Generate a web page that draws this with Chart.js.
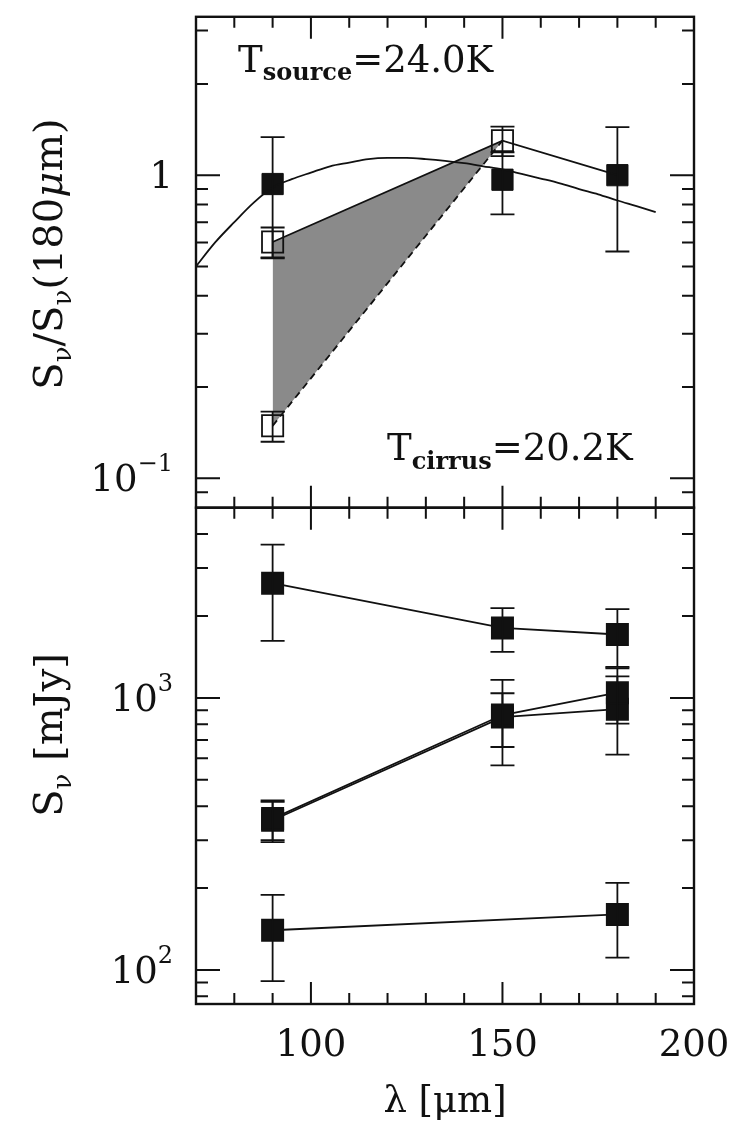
<!DOCTYPE html>
<html>
<head>
<meta charset="utf-8">
<script src="https://cdn.jsdelivr.net/npm/chart.js@4.4.0/dist/chart.umd.min.js"></script>
<style>
  html, body { margin: 0; padding: 0; background: #fff; }
  #wrap { position: relative; width: 731px; height: 1127px; }
  canvas { position: absolute; left: 0; top: 0; }
</style>
</head>
<body>
<div id="wrap">
  <canvas id="topChart" width="731" height="1127"></canvas>
  <canvas id="bottomChart" width="731" height="1127"></canvas>
</div>
<script>
// band wavelengths (micron)
const wavelengths = [90, 150, 180];

// top panel: S_nu / S_nu(180um)
const ratioSource = [0.935, 0.966, 1.0];
const ratioSourceErr = [0.40, 0.224, 0.44];
const openX = [90, 90, 150];
const openRatio = [0.602, 0.149, 1.30];
const openRatioErr = [0.07, 0.017, 0.145];
const upperLine = [0.602, 1.30, 1.0];
const dashedX = [90, 150];
const dashedLine = [0.149, 1.30];
const shadeTop = [0.602, 1.30];

// greybody curve
const curveX = [70, 75, 80, 85, 90, 95, 100, 105, 110, 115, 120, 125, 130,
                135, 140, 145, 150, 155, 160, 165, 170, 175, 180, 185, 190];
const curveY = [0.50, 0.60, 0.70, 0.81, 0.91, 0.97, 1.02, 1.07, 1.10, 1.13, 1.14, 1.14, 1.13,
                1.115, 1.095, 1.07, 1.045, 1.01, 0.975, 0.94, 0.90, 0.865, 0.825, 0.79, 0.755];

// bottom panel: S_nu in mJy
const fluxA = [2640, 1807, 1710];
const fluxAErr = [1020, 330, 410];
const fluxB = [360, 865, 1045];
const fluxBErr = [60, 300, 240];
const fluxC = [355, 850, 909];
const fluxCErr = [60, 190, 290];
const fluxD = [140, null, 160];
const fluxDErr = [49, null, 49];

// tick labels (base, exponent)
const xTickLabels = [100, 150, 200];
const topYTicks = [0.1, 1];
const topYLabels = [['10', '\u22121'], ['1', '']];
const bottomYTicks = [100, 1000];
const bottomYLabels = [['10', '2'], ['10', '3']];

const FONT = 'DejaVu Serif';
const INK = '#111';

function pts(xs, ys) {
    return xs.map((x, i) => ({ x: x, y: ys[i] }));
}

function logMinor(min, max) {
    const out = [];
    for (let d = Math.floor(Math.log10(min)); d <= Math.ceil(Math.log10(max)); d++) {
        for (let m = 2; m <= 9; m++) {
            const v = m * Math.pow(10, d);
            if (v > min && v < max) out.push(v);
        }
    }
    return out;
}

function richWidth(ctx, parts) {
    let total = 0;
    parts.forEach(p => {
        ctx.font = (p[2] || '') + ' ' + p[1] + 'px "' + FONT + '"';
        total += ctx.measureText(p[0]).width;
    });
    return total;
}

// draws a run of text pieces: [text, size, style, dy]; align 'left' | 'center' | 'right'
function drawRich(ctx, parts, x, y, align) {
    const total = richWidth(ctx, parts);
    let cx = align === 'center' ? x - total / 2 : align === 'right' ? x - total : x;
    parts.forEach(p => {
        ctx.font = (p[2] || '') + ' ' + p[1] + 'px "' + FONT + '"';
        ctx.fillText(p[0], cx, y + (p[3] || 0));
        cx += ctx.measureText(p[0]).width;
    });
}

// no label overhang: keep the plot box where it is
function noOverhang(s) {
    s.paddingTop = 0; s.paddingBottom = 0; s.paddingLeft = 0; s.paddingRight = 0;
}

const panelPlugin = {
    id: 'panel',
    afterDatasetsDraw(chart, args, opts) {
        const ctx = chart.ctx;
        const a = chart.chartArea;
        const xs = chart.scales.x;
        const ys = chart.scales.y;
        ctx.save();
        ctx.strokeStyle = INK;

        // error bars
        ctx.lineWidth = 1.8;
        chart.data.datasets.forEach((ds, i) => {
            if (!ds.errorBars) return;
            const meta = chart.getDatasetMeta(i);
            meta.data.forEach((pt, j) => {
                const e = ds.errorBars[j];
                const v = ds.data[j].y;
                if (e == null || v == null) return;
                const yt = ys.getPixelForValue(v + e);
                const yb = ys.getPixelForValue(v - e);
                ctx.beginPath();
                ctx.moveTo(pt.x, yt); ctx.lineTo(pt.x, yb);
                ctx.moveTo(pt.x - 12, yt); ctx.lineTo(pt.x + 12, yt);
                ctx.moveTo(pt.x - 12, yb); ctx.lineTo(pt.x + 12, yb);
                ctx.stroke();
            });
        });

        // inward ticks on all four sides
        ctx.lineWidth = 2;
        ctx.beginPath();
        const xMinor = [];
        for (let v = 80; v < 200; v += 10) if (v % 50) xMinor.push(v);
        [[xTickLabels, 22], [xMinor, 11]].forEach(([vals, len]) => {
            vals.forEach(v => {
                const px = xs.getPixelForValue(v);
                ctx.moveTo(px, a.top); ctx.lineTo(px, a.top + len);
                ctx.moveTo(px, a.bottom); ctx.lineTo(px, a.bottom - len);
            });
        });
        [[opts.major, 24], [logMinor(ys.min, ys.max), 12]].forEach(([vals, len]) => {
            vals.forEach(v => {
                const py = ys.getPixelForValue(v);
                ctx.moveTo(a.left, py); ctx.lineTo(a.left + len, py);
                ctx.moveTo(a.right, py); ctx.lineTo(a.right - len, py);
            });
        });
        ctx.stroke();

        ctx.lineWidth = 2.4;
        ctx.strokeRect(a.left, a.top, a.right - a.left, a.bottom - a.top);
        ctx.restore();
    },
    afterDraw(chart, args, opts) {
        const ctx = chart.ctx;
        const ys = chart.scales.y;
        ctx.save();
        ctx.fillStyle = INK;
        ctx.textBaseline = 'alphabetic';
        // y tick labels with raised exponents, right aligned
        opts.major.forEach((v, i) => {
            const lab = opts.tickLabels[i];
            const py = ys.getPixelForValue(v);
            drawRich(ctx, [[lab[0], 37], [lab[1], 24, '', -20]], 173, py + 13, 'right');
        });
        (opts.labels || []).forEach(l => drawRich(ctx, l.parts, l.x, l.y, 'left'));
        if (opts.yTitle) {
            ctx.translate(opts.yTitle.x, opts.yTitle.y);
            ctx.rotate(-Math.PI / 2);
            drawRich(ctx, opts.yTitle.parts, 0, 0, 'center');
        }
        ctx.restore();
    }
};

const tickFont = { family: FONT, size: 37 };

function yAxis(min, max, ticks) {
    return {
        type: 'logarithmic', min: min, max: max,
        grid: { display: false, drawTicks: false },
        border: { display: false },
        afterBuildTicks: s => { s.ticks = ticks.map(v => ({ value: v })); },
        ticks: { display: false },
        afterFit: s => { s.width = 196; noOverhang(s); }
    };
}

const pointSq = { pointStyle: 'rect', pointRadius: 15, pointHoverRadius: 15 };

new Chart(document.getElementById('topChart'), {
    type: 'line',
    data: {
        datasets: [
            { data: pts(curveX, curveY), borderColor: INK, borderWidth: 1.8, pointRadius: 0,
              cubicInterpolationMode: 'monotone', fill: false },
            { data: pts(wavelengths, upperLine), borderColor: INK, borderWidth: 1.8, pointRadius: 0, fill: false },
            { data: pts(dashedX, dashedLine), borderColor: INK, borderWidth: 1.8, borderDash: [7, 5],
              pointRadius: 0, fill: false },
            { data: pts(dashedX, shadeTop), borderWidth: 0, pointRadius: 0, backgroundColor: '#8a8a8a',
              fill: { target: 2 } },
            Object.assign({ data: pts(wavelengths, ratioSource), errorBars: ratioSourceErr, showLine: false,
              backgroundColor: INK, borderColor: INK, borderWidth: 1 }, pointSq),
            Object.assign({ data: pts(openX, openRatio), errorBars: openRatioErr, showLine: false,
              backgroundColor: 'rgba(0,0,0,0)', borderColor: INK, borderWidth: 1.8 }, pointSq)
        ]
    },
    options: {
        responsive: false,
        animation: false,
        events: [],
        layout: { padding: { top: 8, right: 37, bottom: 619.3, left: 0 } },
        plugins: {
            legend: { display: false },
            tooltip: { enabled: false },
            filler: { drawTime: 'beforeDatasetsDraw' },
            panel: {
                major: topYTicks,
                tickLabels: topYLabels,
                labels: [
                    { x: 238, y: 72, parts: [['T', 37], ['source', 24, 'bold', 8], ['=24.0K', 37]] },
                    { x: 387, y: 460, parts: [['T', 37], ['cirrus', 24, 'bold', 9], ['=20.2K', 37]] }
                ],
                yTitle: { x: 62, y: 254, parts: [['S', 40], ['\u03BD', 26, '', 9], ['/S', 40],
                          ['\u03BD', 26, '', 9], ['(180', 40], ['\u03BC', 40, 'italic'], ['m)', 40]] }
            }
        },
        scales: {
            x: { type: 'linear', min: 70, max: 200, display: false, afterFit: noOverhang },
            y: yAxis(0.08, 3.33, topYTicks)
        }
    },
    plugins: [panelPlugin]
});

function fluxSet(ys, errs) {
    return Object.assign({ data: pts(wavelengths, ys), errorBars: errs, spanGaps: true,
        borderColor: INK, backgroundColor: INK, borderWidth: 1.8, fill: false }, pointSq);
}

new Chart(document.getElementById('bottomChart'), {
    type: 'line',
    data: {
        datasets: [
            fluxSet(fluxA, fluxAErr),
            fluxSet(fluxB, fluxBErr),
            fluxSet(fluxC, fluxCErr),
            fluxSet(fluxD, fluxDErr)
        ]
    },
    options: {
        responsive: false,
        animation: false,
        events: [],
        layout: { padding: { top: 507.7, right: 37, bottom: 0, left: 0 } },
        plugins: {
            legend: { display: false },
            tooltip: { enabled: false },
            panel: {
                major: bottomYTicks,
                tickLabels: bottomYLabels,
                yTitle: { x: 62, y: 735, parts: [['S', 40], ['\u03BD', 26, '', 9], [' [mJy]', 40]] }
            }
        },
        scales: {
            x: {
                type: 'linear', min: 70, max: 200,
                grid: { display: false, drawTicks: false },
                border: { display: false },
                afterBuildTicks: s => { s.ticks = xTickLabels.map(v => ({ value: v })); },
                ticks: { font: tickFont, color: INK, padding: 20, maxRotation: 0, autoSkip: false },
                title: { display: true, text: '\u03BB [\u03BCm]', font: tickFont, color: INK,
                         padding: { top: 0, bottom: 2 } },
                afterFit: s => { s.height = 123; noOverhang(s); }
            },
            y: yAxis(75, 5000, bottomYTicks)
        }
    },
    plugins: [panelPlugin]
});
</script>
</body>
</html>
